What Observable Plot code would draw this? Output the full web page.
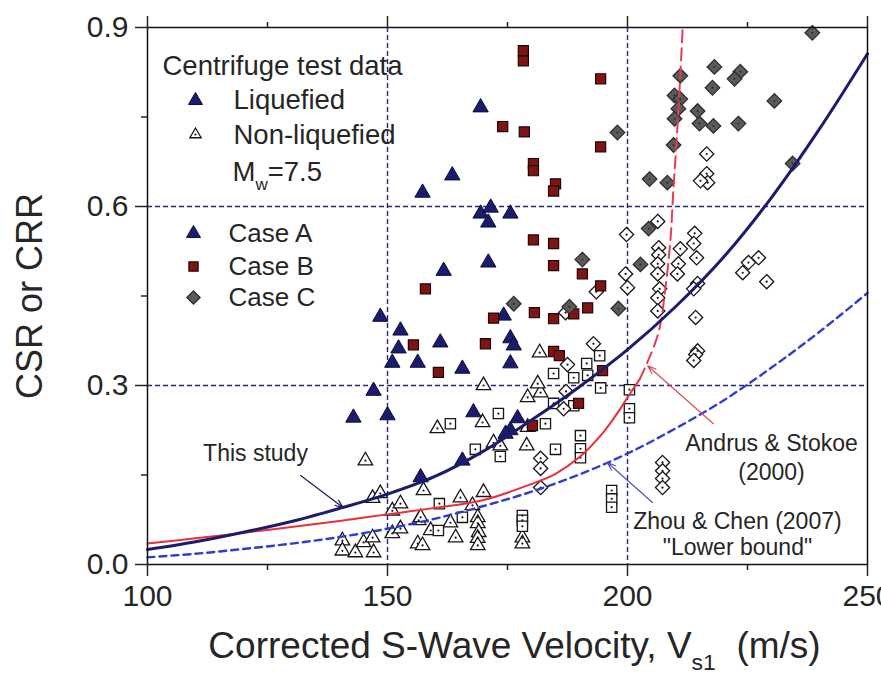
<!DOCTYPE html>
<html>
<head>
<meta charset="utf-8">
<script src="https://cdn.jsdelivr.net/npm/d3@7"></script>
<script src="https://cdn.jsdelivr.net/npm/@observablehq/plot@0.6"></script>
<style>
  html, body { margin: 0; padding: 0; background: #fff; overflow: hidden; }
  #chart svg { display: block; overflow: hidden; }
</style>
</head>
<body>
<div id="chart"></div>
<script>
// Centrifuge test data: [Vs1 (m/s), CSR]
const liquefiedA = [
  [148.5,0.415],[152.7,0.392],[152.3,0.362],[151.0,0.338],[156.3,0.338],[147.1,0.291],
  [142.9,0.246],[150.0,0.250],[156.9,0.146],[169.4,0.766],[163.5,0.652],[157.3,0.623],
  [169.4,0.588],[171.5,0.598],[171.0,0.573],[175.6,0.588],[171.0,0.506],[161.7,0.492],
  [161.0,0.372],[165.6,0.328],[175.6,0.379],[176.3,0.367],[175.6,0.337],[174.2,0.417],
  [167.9,0.255],[177.1,0.245],[175.6,0.225],[174.6,0.219],[165.6,0.174]
];
const liquefiedB = [
  [178.3,0.861],[178.3,0.844],[194.4,0.814],[174.0,0.734],[178.5,0.725],[194.4,0.700],
  [180.4,0.672],[180.4,0.660],[185.0,0.638],[184.6,0.626],[180.4,0.544],[184.6,0.538],
  [184.6,0.501],[190.6,0.487],[194.4,0.467],[157.9,0.462],[172.1,0.413],[180.6,0.422],
  [184.6,0.412],[191.7,0.430],[188.8,0.420],[155.4,0.368],[170.4,0.370],[160.6,0.322],
  [184.6,0.357],[185.8,0.350],[194.8,0.325],[189.8,0.270],[180.2,0.233]
];
const liquefiedC = [
  [197.9,0.724],[238.5,0.891],[218.1,0.834],[211.0,0.819],[223.5,0.826],[222.3,0.814],
  [217.7,0.799],[209.8,0.786],[211.0,0.780],[210.6,0.764],[214.6,0.760],[209.8,0.747],
  [215.0,0.739],[217.9,0.735],[223.1,0.739],[230.6,0.777],[234.4,0.672],[209.6,0.703],
  [204.6,0.646],[208.3,0.640],[190.6,0.511],[176.3,0.437],[187.9,0.432],[198.1,0.429],
  [204.4,0.563],[202.7,0.503]
];
const nonLiquefiedA = [
  [145.4,0.174],[146.9,0.111],[148.5,0.119],[151.0,0.090],[152.7,0.102],[151.0,0.052],
  [152.7,0.060],[140.6,0.040],[140.6,0.023],[143.3,0.020],[145.0,0.037],[146.9,0.045],
  [147.1,0.020],[156.3,0.035],[156.5,0.074],[170.0,0.300],[179.2,0.280],[181.9,0.288],
  [181.3,0.303],[160.4,0.228],[169.8,0.238],[179.2,0.230],[172.1,0.204],[173.5,0.199],
  [179.0,0.199],[157.5,0.124],[165.2,0.112],[170.0,0.121],[167.7,0.099],[156.9,0.079],
  [159.0,0.057],[163.1,0.070],[164.2,0.045],[157.3,0.032],[168.8,0.079],[168.8,0.069],
  [169.0,0.054],[168.8,0.044],[168.8,0.032],[178.1,0.045],[178.1,0.035],[181.7,0.355]
];
const nonLiquefiedB = [
  [184.6,0.320],[191.5,0.337],[191.7,0.317],[194.2,0.350],[194.4,0.296],[188.8,0.313],
  [200.4,0.293],[184.6,0.270],[188.8,0.266],[200.4,0.261],[200.4,0.246],[163.1,0.236],
  [173.1,0.253],[182.9,0.236],[168.3,0.193],[173.5,0.181],[185.0,0.193],[190.2,0.216],
  [190.2,0.194],[190.2,0.179],[160.8,0.102],[165.6,0.079],[160.6,0.057],[196.7,0.124],
  [196.7,0.110],[196.7,0.096],[178.1,0.082],[178.1,0.074],[178.1,0.064]
];
const nonLiquefiedC = [
  [216.5,0.688],[216.5,0.655],[216.7,0.640],[215.2,0.643],[206.3,0.575],[199.8,0.553],
  [214.0,0.555],[213.8,0.538],[211.0,0.529],[206.5,0.531],[206.5,0.519],[214.4,0.514],
  [210.6,0.504],[206.3,0.504],[210.4,0.487],[199.6,0.487],[206.3,0.487],[200.0,0.464],
  [214.6,0.471],[213.8,0.462],[206.7,0.462],[206.3,0.447],[206.3,0.425],[214.2,0.414],
  [224.0,0.489],[225.2,0.506],[227.3,0.514],[229.0,0.474],[214.6,0.358],[214.2,0.352],
  [213.8,0.342],[193.5,0.457],[187.1,0.422],[192.9,0.370],[187.5,0.335],[187.2,0.290],
  [186.7,0.261],[181.9,0.178],[181.9,0.161],[181.9,0.129],[207.3,0.171],[207.3,0.157],
  [207.3,0.144],[207.3,0.129]
];

// CRR curves: [Vs1, CRR]
const thisStudy = [
  [100,0.025],[110,0.038],[120,0.054],[130,0.072],[140,0.094],[150,0.118],[160,0.148],
  [170,0.190],[180,0.242],[190,0.298],[200,0.360],[210,0.432],[220,0.515],[230,0.615],
  [240,0.730],[250,0.856]
];
const andrusStokoe = [
  [100,0.035],[110,0.044],[120,0.053],[130,0.063],[140,0.073],[150,0.084],[160,0.095],
  [170,0.108],[180,0.135],[185,0.152],[190,0.180],[195,0.222],[198,0.255],[200,0.280],
  [202.5,0.310]
];
const andrusStokoeExtension = [
  [202.5,0.310],[204.2,0.340],[206.5,0.390],[208.0,0.470],[209.0,0.550],[209.5,0.620],
  [210.3,0.720],[211.0,0.820],[211.5,0.900]
];
const zhouChenLower = [
  [100,0.012],[110,0.018],[120,0.026],[130,0.035],[140,0.046],[150,0.060],[160,0.077],
  [170,0.098],[180,0.122],[190,0.151],[200,0.186],[210,0.228],[220,0.275],[230,0.330],
  [240,0.390],[250,0.455]
];

// Axis ticks and reference lines
const xMajor = [100, 150, 200, 250];
const xMinor = [125, 175, 225];
const yMajor = [0, 0.3, 0.6, 0.9];
const yMinor = [0.15, 0.45, 0.75];
const gridX = [150, 200];
const gridY = [0.3, 0.6];

// Curve labels with leader arrows
const curveLabels = [
  {text: "This study", vs1: 122.5, csr: 0.186},
  {text: "Andrus & Stokoe", vs1: 230, csr: 0.203},
  {text: "(2000)", vs1: 230, csr: 0.154},
  {text: "Zhou & Chen (2007)", vs1: 222.9, csr: 0.072},
  {text: "\"Lower bound\"", vs1: 222.9, csr: 0.028}
];
const leaders = [
  {name: "This study", x1: 131.9, y1: 0.149, x2: 140.8, y2: 0.095},
  {name: "Andrus & Stokoe", x1: 217.9, y1: 0.236, x2: 204.2, y2: 0.333},
  {name: "Zhou & Chen", x1: 205.2, y1: 0.104, x2: 195.8, y2: 0.171}
];

const rows = (pts) => pts.map(([vs1, csr]) => ({vs1, csr}));

const navy = "#1c1c6c";
const maroon = "#7d1515";
const slate = "#5a5a5a";
const redLine = "#e8313a";
const blueDash = "#2f3fcc";
const gridColor = "#26267e";
const ink = "#262626";
const font = "'Liberation Sans', Arial, Helvetica, sans-serif";

const openStyle = {fill: "white", stroke: "#161616", strokeWidth: 1.3};
const centreDot = {r: 1.1, fill: "#161616"};

const legendText = (text, dx, dy, size) =>
  Plot.text([text], {text: d => d, frameAnchor: "top-left", dx, dy, textAnchor: "start",
    lineAnchor: "middle", fontSize: size, fill: ink});

const chart = Plot.plot({
  width: 881,
  height: 677,
  marginLeft: 147,
  marginRight: 14,
  marginTop: 27,
  marginBottom: 113,
  x: {domain: [100, 250]},
  y: {domain: [0, 0.9]},
  style: {fontFamily: font, background: "white", color: ink},
  marks: [
    // dashed reference grid
    Plot.ruleX(gridX, {stroke: gridColor, strokeWidth: 1.4, strokeDasharray: "5,3"}),
    Plot.ruleY(gridY, {stroke: gridColor, strokeWidth: 1.4, strokeDasharray: "5,3"}),

    // non-liquefied (open) markers
    Plot.dot(rows(nonLiquefiedA), {x: "vs1", y: "csr", symbol: "triangle", r: 5.4, ...openStyle}),
    Plot.dot(rows(nonLiquefiedA), {x: "vs1", y: "csr", ...centreDot}),
    Plot.dot(rows(nonLiquefiedB), {x: "vs1", y: "csr", symbol: "square", r: 5.8, ...openStyle}),
    Plot.dot(rows(nonLiquefiedB), {x: "vs1", y: "csr", ...centreDot}),
    Plot.dot(rows(nonLiquefiedC), {x: "vs1", y: "csr", symbol: "diamond2", r: 6.4, ...openStyle}),
    Plot.dot(rows(nonLiquefiedC), {x: "vs1", y: "csr", ...centreDot}),

    // liquefied (filled) markers
    Plot.dot(rows(liquefiedA), {x: "vs1", y: "csr", symbol: "triangle", r: 5.7, fill: navy, stroke: "#0d0d3e", strokeWidth: 1}),
    Plot.dot(rows(liquefiedB), {x: "vs1", y: "csr", symbol: "square", r: 5.7, fill: maroon, stroke: "#240404", strokeWidth: 1.2}),
    Plot.dot(rows(liquefiedC), {x: "vs1", y: "csr", symbol: "diamond2", r: 6.6, fill: slate, stroke: "#2a2a2a", strokeWidth: 1.2}),
    Plot.dot(rows(liquefiedC), {x: "vs1", y: "csr", r: 0.9, fill: "#222"}),

    // CRR curves
    Plot.line(rows(zhouChenLower), {x: "vs1", y: "csr", curve: "catmull-rom", stroke: blueDash, strokeWidth: 2.4, strokeDasharray: "7,5"}),
    Plot.line(rows(andrusStokoe), {x: "vs1", y: "csr", curve: "catmull-rom", stroke: redLine, strokeWidth: 2}),
    Plot.line(rows(andrusStokoeExtension), {x: "vs1", y: "csr", curve: "catmull-rom", stroke: "#e63a55", strokeWidth: 2, strokeDasharray: "12,6"}),
    Plot.line(rows(thisStudy), {x: "vs1", y: "csr", curve: "catmull-rom", stroke: navy, strokeWidth: 3}),

    // curve labels and leaders
    Plot.arrow(leaders, {x1: "x1", y1: "y1", x2: "x2", y2: "y2",
      stroke: d => d.name === "This study" ? "#1c1c5c" : d.name === "Zhou & Chen" ? "#5050c0" : "#e04a50",
      strokeWidth: 1.2, headLength: 11, headAngle: 40}),
    Plot.text(curveLabels, {x: "vs1", y: "csr", text: "text", fontSize: 23, fill: ink, textAnchor: "middle"}),

    // legend
    legendText("Centrifuge test data", 15, 39, 27.5),
    Plot.dot([0], {frameAnchor: "top-left", dx: 48, dy: 73, symbol: "triangle", r: 5.2, fill: navy, stroke: "#0d0d3e", strokeWidth: 1}),
    legendText("Liquefied", 86, 73, 27.5),
    Plot.dot([0], {frameAnchor: "top-left", dx: 48, dy: 107, symbol: "triangle", r: 4.2, ...openStyle}),
    Plot.dot([0], {frameAnchor: "top-left", dx: 48, dy: 107, ...centreDot}),
    legendText("Non-liquefied", 86, 108, 27.5),
    legendText("M_{w}=7.5", 85, 145, 27.5),
    Plot.dot([0], {frameAnchor: "top-left", dx: 46, dy: 206, symbol: "triangle", r: 5.2, fill: navy, stroke: "#0d0d3e", strokeWidth: 1}),
    legendText("Case A", 81, 206, 26),
    Plot.dot([0], {frameAnchor: "top-left", dx: 46, dy: 239, symbol: "square", r: 5.2, fill: maroon, stroke: "#240404", strokeWidth: 1.2}),
    legendText("Case B", 81, 239, 26),
    Plot.dot([0], {frameAnchor: "top-left", dx: 46, dy: 270, symbol: "diamond2", r: 6, fill: slate, stroke: "#2a2a2a", strokeWidth: 1.2}),
    legendText("Case C", 81, 270, 26),

    // axes
    Plot.axisX({anchor: "bottom", ticks: xMajor, tickSize: 12, tickPadding: 8, fontSize: 30, label: null, strokeWidth: 1.5, fill: ink}),
    Plot.axisX({anchor: "bottom", ticks: xMinor, tickSize: 6, tickFormat: () => "", label: null, strokeWidth: 1.5}),
    Plot.axisX({anchor: "top", ticks: xMajor, tickSize: 12, tickFormat: () => "", label: null, strokeWidth: 1.5}),
    Plot.axisX({anchor: "top", ticks: xMinor, tickSize: 6, tickFormat: () => "", label: null, strokeWidth: 1.5}),
    Plot.axisY({anchor: "left", ticks: yMajor, tickSize: 12, tickPadding: 7, tickFormat: d3.format(".1f"), fontSize: 30, label: null, strokeWidth: 1.5, fill: ink}),
    Plot.axisY({anchor: "left", ticks: yMinor, tickSize: 6, tickFormat: () => "", label: null, strokeWidth: 1.5}),
    Plot.frame({stroke: "#111", strokeWidth: 1.5}),

    // axis titles
    Plot.text(["CSR or CRR"], {text: d => d, frameAnchor: "left", dx: -117, rotate: -90, fontSize: 36, fill: ink, textAnchor: "middle", lineAnchor: "middle"}),
    Plot.text(["Corrected S-Wave Velocity, V_{s1}\u00a0 (m/s)"], {text: d => d, frameAnchor: "bottom", dx: 7, dy: 82, fontSize: 37, fill: ink, textAnchor: "middle", lineAnchor: "middle"})
  ]
});

// turn "_{...}" in labels into subscripts
function applySubscripts(svg) {
  const NS = "http://www.w3.org/2000/svg";
  svg.querySelectorAll("text").forEach(node => {
    const s = node.textContent;
    if (!s.includes("_{")) return;
    const parts = s.split(/_\{([^}]*)\}/);
    node.textContent = "";
    let lowered = false;
    parts.forEach((p, i) => {
      if (!p) return;
      const ts = document.createElementNS(NS, "tspan");
      ts.textContent = p;
      if (i % 2) {
        ts.setAttribute("font-size", "0.62em");
        ts.setAttribute("dy", "0.5em");
        lowered = true;
      } else if (lowered) {
        ts.setAttribute("dy", "-0.31em");
        lowered = false;
      }
      node.appendChild(ts);
    });
  });
}
applySubscripts(chart);

document.getElementById("chart").appendChild(chart);
</script>
</body>
</html>
